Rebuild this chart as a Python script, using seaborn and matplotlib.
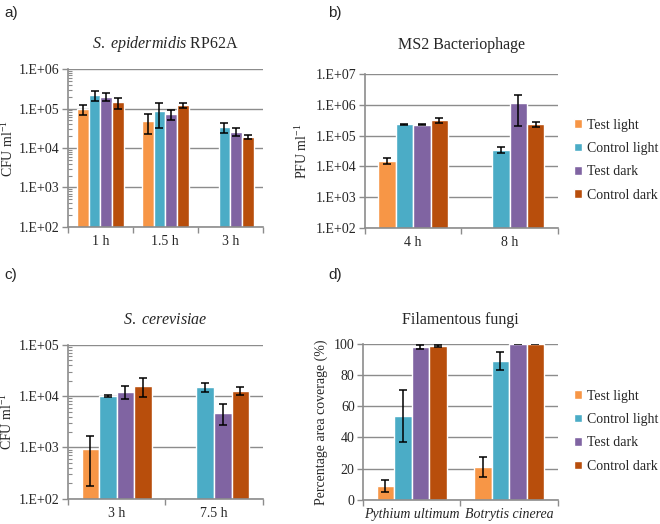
import matplotlib
matplotlib.use('Agg')

import numpy as np
import pandas as pd
import seaborn as sns
import matplotlib.pyplot as plt
from matplotlib.ticker import LogLocator, NullFormatter

# === Data ===
conditions = ['Test light', 'Control light', 'Test dark', 'Control dark']
colors = ['#F79646', '#4BACC6', '#8064A2', '#B84E0C']
nan = np.nan

# a) S. epidermidis RP62A (CFU/ml)
a_times = ['1 h', '1.5 h', '3 h']
a_test_light = [9.5e4, 4.8e4, nan]
a_control_light = [2.2e5, 8.5e4, 3.4e4]
a_test_dark = [2.0e5, 7.2e4, 2.6e4]
a_control_dark = [1.45e5, 1.2e5, 1.9e4]
a_err_test_light = [2.5e4, 2.5e4, nan]
a_err_control_light = [6e4, 5.2e4, 1e4]
a_err_test_dark = [4.5e4, 2.2e4, 6e3]
a_err_control_dark = [4.5e4, 1.5e4, 2.5e3]

# b) MS2 bacteriophage (PFU/ml)
b_times = ['4 h', '8 h']
b_test_light = [1.5e4, nan]
b_control_light = [2.3e5, 3.5e4]
b_test_dark = [2.25e5, 1.1e6]
b_control_dark = [3.2e5, 2.3e5]
b_err_test_light = [3e3, nan]
b_err_control_light = [1e4, 7e3]
b_err_test_dark = [1e4, 9e5]
b_err_control_dark = [6e4, 4e4]

# c) S. cerevisiae (CFU/ml)
c_times = ['3 h', '7.5 h']
c_test_light = [9.3e2, nan]
c_control_light = [1.0e4, 1.52e4]
c_test_dark = [1.23e4, 4.8e3]
c_control_dark = [1.6e4, 1.27e4]
c_err_test_light = [7.5e2, nan]
c_err_control_light = [3e2, 3e3]
c_err_test_dark = [3.5e3, 2.1e3]
c_err_control_dark = [6.3e3, 2.3e3]

# d) Filamentous fungi (% area coverage)
d_species = ['Pythium ultimum', 'Botrytis cinerea']
d_test_light = [8.8, 21]
d_control_light = [53.7, 88.9]
d_test_dark = [97.9, 100]
d_control_dark = [98.7, 100]
d_err_test_light = [4, 6.4]
d_err_control_light = [16.4, 5.5]
d_err_test_dark = [1.3, 0.3]
d_err_control_dark = [0.5, 0.3]

log_ticks_a = [1e2, 1e3, 1e4, 1e5, 1e6]
log_labels_a = ['1.E+02', '1.E+03', '1.E+04', '1.E+05', '1.E+06']
log_ticks_b = [1e2, 1e3, 1e4, 1e5, 1e6, 1e7]
log_labels_b = ['1.E+02', '1.E+03', '1.E+04', '1.E+05', '1.E+06', '1.E+07']
log_ticks_c = [1e2, 1e3, 1e4, 1e5]
log_labels_c = ['1.E+02', '1.E+03', '1.E+04', '1.E+05']
pct_ticks = [0, 20, 40, 60, 80, 100]


def make_df(cats, vals, errs):
    rows = []
    for cond, v, e in zip(conditions, vals, errs):
        for cat, val, err in zip(cats, v, e):
            rows.append({'cat': cat, 'cond': cond, 'val': val, 'err': err})
    return pd.DataFrame(rows)


df_a = make_df(a_times,
               [a_test_light, a_control_light, a_test_dark, a_control_dark],
               [a_err_test_light, a_err_control_light, a_err_test_dark, a_err_control_dark])
df_b = make_df(b_times,
               [b_test_light, b_control_light, b_test_dark, b_control_dark],
               [b_err_test_light, b_err_control_light, b_err_test_dark, b_err_control_dark])
df_c = make_df(c_times,
               [c_test_light, c_control_light, c_test_dark, c_control_dark],
               [c_err_test_light, c_err_control_light, c_err_test_dark, c_err_control_dark])
df_d = make_df(d_species,
               [d_test_light, d_control_light, d_test_dark, d_control_dark],
               [d_err_test_light, d_err_control_light, d_err_test_dark, d_err_control_dark])

# === Style ===
sns.set_style('white')
SERIF = ['Liberation Serif', 'DejaVu Serif']
plt.rcParams['font.family'] = 'serif'
plt.rcParams['font.serif'] = SERIF
plt.rcParams['mathtext.fontset'] = 'custom'
plt.rcParams['mathtext.rm'] = 'Liberation Serif'
plt.rcParams['mathtext.it'] = 'Liberation Serif:italic'
GRID = '#8C8C8C'

fig = plt.figure(figsize=(6.6, 5.24), dpi=100)
ax_a = fig.add_axes([0.103, 0.567, 0.295, 0.301])
ax_b = fig.add_axes([0.553, 0.565, 0.292, 0.294])
ax_c = fig.add_axes([0.103, 0.048, 0.295, 0.294])
ax_d = fig.add_axes([0.550, 0.046, 0.295, 0.298])


def draw(ax, df, cats, title, ylabel, log, ticks, labels, legend,
         title_pad, ylabel_x):
    sns.barplot(data=df, x='cat', y='val', hue='cond', order=cats,
                hue_order=conditions, palette=colors, saturation=1,
                width=0.72, errorbar=None, legend=legend, ax=ax)
    if log:
        ax.set_yscale('log')
    ax.set_ylim(ticks[0], ticks[-1])
    # error bars centred on the drawn bars
    for cond, cont in zip(conditions, ax.containers):
        sub = df[df['cond'] == cond].set_index('cat')
        for bar in cont:
            h = bar.get_height()
            if not np.isfinite(h):
                continue
            xc = bar.get_x() + bar.get_width() / 2
            cat = cats[int(round(xc))]
            ax.errorbar(xc, h, yerr=sub.loc[cat, 'err'], fmt='none',
                        ecolor='black', elinewidth=1.1, capsize=3, capthick=1.1)
    ax.set_yticks(ticks)
    ax.set_yticklabels(labels if labels else [str(t) for t in ticks],
                       fontsize=10, fontfamily=SERIF)
    if log:
        ax.yaxis.set_minor_locator(LogLocator(base=10, subs=np.arange(2, 10)))
        ax.yaxis.set_minor_formatter(NullFormatter())
        ax.tick_params(axis='y', which='minor', direction='in', length=3,
                       color=GRID, width=0.8, left=True)
    ax.tick_params(axis='y', which='major', direction='out', length=4,
                   color=GRID, width=1, left=True, pad=2)
    n = len(cats)
    ax.set_xlim(-0.5, n - 0.5)
    ax.set_xticks(np.arange(n + 1) - 0.5)
    ax.set_xticklabels([''] * (n + 1))
    ax.set_xticks(np.arange(n), minor=True)
    ax.set_xticklabels(cats, minor=True, fontsize=10, fontfamily=SERIF)
    ax.tick_params(axis='x', which='major', direction='out', length=4,
                   color=GRID, width=1, bottom=True)
    ax.tick_params(axis='x', which='minor', length=0, pad=6)
    ax.yaxis.grid(True, which='major', color=GRID, lw=1)
    ax.set_axisbelow(True)
    for s in ['top', 'right']:
        ax.spines[s].set_visible(False)
    for s in ['left', 'bottom']:
        ax.spines[s].set_color(GRID)
        ax.spines[s].set_linewidth(1.2)
    ax.set_xlabel('')
    ax.set_ylabel(ylabel, fontsize=10, fontfamily=SERIF)
    ax.yaxis.set_label_coords(ylabel_x, 0.5)
    ax.set_title(title, fontsize=11.5, pad=title_pad, fontfamily=SERIF)
    if legend:
        sns.move_legend(ax, 'center left', bbox_to_anchor=(1.02, 0.44),
                        frameon=False, title=None,
                        prop={'family': SERIF, 'size': 10},
                        handlelength=0.6, handleheight=0.6,
                        handletextpad=0.3, labelspacing=0.75)


draw(ax_a, df_a, a_times, r'$\mathit{S.\ epidermidis}$ RP62A',
     'CFU ml$^{-1}$', True, log_ticks_a, log_labels_a, False, 15, -0.265)
draw(ax_b, df_b, b_times, 'MS2 Bacteriophage',
     'PFU ml$^{-1}$', True, log_ticks_b, log_labels_b, True, 18, -0.285)
draw(ax_c, df_c, c_times, r'$\mathit{S.\ cerevisiae}$',
     'CFU ml$^{-1}$', True, log_ticks_c, log_labels_c, False, 15, -0.27)
draw(ax_d, df_d, d_species, 'Filamentous fungi',
     'Percentage area coverage (%)', False, pct_ticks, None, True, 14.5, -0.18)
for lbl in ax_d.get_xticklabels(minor=True):
    lbl.set_fontstyle('italic')

for x, y, s in [(0.006, 0.988, 'a)'), (0.497, 0.988, 'b)'),
                (0.006, 0.488, 'c)'), (0.497, 0.488, 'd)')]:
    fig.text(x, y, s, fontsize=11, family='Liberation Sans', va='top')

fig.savefig('out.png', dpi=100)
